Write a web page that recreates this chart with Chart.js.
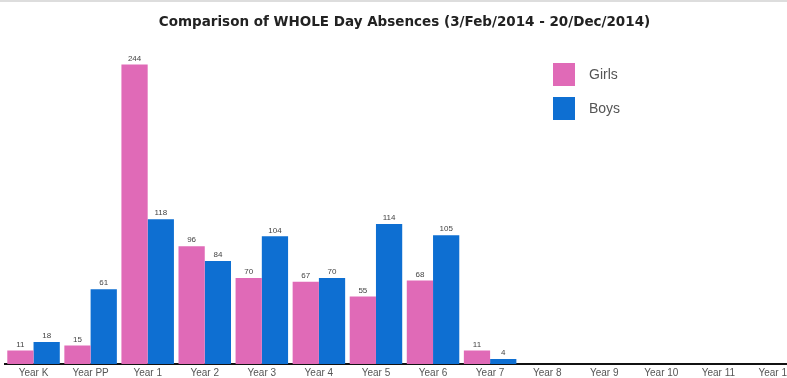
<!DOCTYPE html>
<html lang="en">
<head>
  <meta charset="UTF-8" />
  <title>Comparison of WHOLE Day Absences</title>
  <script src="https://cdn.jsdelivr.net/npm/chart.js"></script>
  <style>
    html, body { margin: 0; padding: 0; background: #fff; overflow: hidden; }
    body { border-top: 2px solid #ddd; box-sizing: border-box; height: 378px; }
    #wrap { position: relative; width: 810px; height: 380px; }
  </style>
</head>
<body>
  <div id="wrap"><canvas id="absences"></canvas></div>

  <script>
    const years = ['Year K', 'Year PP', 'Year 1', 'Year 2', 'Year 3', 'Year 4', 'Year 5',
                   'Year 6', 'Year 7', 'Year 8', 'Year 9', 'Year 10', 'Year 11', 'Year 12'];
    const girls = [11, 15, 244, 96, 70, 67, 55, 68, 11, null, null, null, null, null];
    const boys  = [18, 61, 118, 84, 104, 70, 114, 105, 4, null, null, null, null, null];

    const pink = '#e06ab7';
    const blue = '#0e6fd2';

    // little numbers above each bar
    const valueLabels = {
      id: 'valueLabels',
      afterDatasetsDraw(chart) {
        const ctx = chart.ctx;
        ctx.save();
        ctx.font = '8px Arial, "Liberation Sans", sans-serif';
        ctx.fillStyle = '#444';
        ctx.textAlign = 'center';
        ctx.textBaseline = 'bottom';
        chart.data.datasets.forEach((ds, i) => {
          chart.getDatasetMeta(i).data.forEach((bar, j) => {
            if (ds.data[j] == null) return;
            ctx.fillText(ds.data[j], bar.x, bar.y - 2);
          });
        });
        ctx.restore();
      }
    };

    // legend sits inside the plot, upper right
    const boxLegend = {
      id: 'boxLegend',
      afterDraw(chart) {
        const ctx = chart.ctx;
        ctx.save();
        ctx.font = '14px Arial, "Liberation Sans", sans-serif';
        ctx.textBaseline = 'middle';
        chart.data.datasets.forEach((ds, i) => {
          const y = 61 + i * 34;
          ctx.fillStyle = ds.backgroundColor;
          ctx.fillRect(553, y, 22, 23);
          ctx.fillStyle = '#555';
          ctx.fillText(ds.label, 589, y + 12);
        });
        ctx.restore();
      }
    };

    new Chart(document.getElementById('absences'), {
      type: 'bar',
      data: {
        labels: years,
        datasets: [
          { label: 'Girls', data: girls, backgroundColor: pink, barPercentage: 1.0, categoryPercentage: 0.92 },
          { label: 'Boys', data: boys, backgroundColor: blue, barPercentage: 1.0, categoryPercentage: 0.92 }
        ]
      },
      options: {
        responsive: true,
        maintainAspectRatio: false,
        animation: false,
        layout: { padding: { left: 5, right: 6, bottom: 0, top: 0 } },
        plugins: {
          legend: { display: false },
          tooltip: { enabled: false },
          title: {
            display: true,
            text: 'Comparison of WHOLE Day Absences (3/Feb/2014 - 20/Dec/2014)',
            color: '#222',
            font: { family: '"DejaVu Sans", Arial, sans-serif', size: 13.5, weight: 'bold' },
            padding: { top: 12, bottom: 27 }
          }
        },
        scales: {
          x: {
            grid: { display: false, drawTicks: false },
            border: { color: '#111', width: 2 },
            ticks: {
              color: '#555',
              font: { family: 'Arial, "Liberation Sans", sans-serif', size: 10 },
              padding: 3,
              maxRotation: 0,
              autoSkip: false
            }
          },
          y: {
            display: false,
            min: 0,
            max: 250
          }
        }
      },
      plugins: [valueLabels, boxLegend]
    });
  </script>
</body>
</html>
